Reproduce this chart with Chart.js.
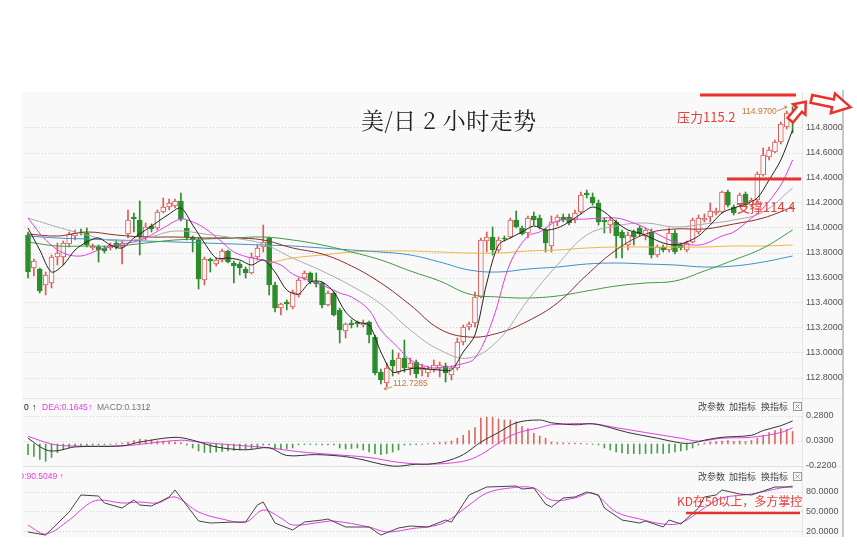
<!DOCTYPE html>
<html><head><meta charset="utf-8">
<script src="https://cdn.jsdelivr.net/npm/chart.js@4.4.1/dist/chart.umd.min.js"></script>
<style>
html,body{margin:0;padding:0;background:#fff;width:857px;height:553px;overflow:hidden;font-family:"Liberation Sans","Noto Sans CJK SC",sans-serif;}
.a{position:absolute;white-space:nowrap;}
canvas{position:absolute;}
.btn{font-family:"Noto Sans CJK SC",sans-serif;font-size:9px;color:#444;line-height:12px;}
.red{font-family:"Noto Sans CJK SC",sans-serif;color:#e5413b;}
</style></head><body>
<div class="a" style="left:22px;top:92px;width:821px;height:445px;background:#f9f9f9;"></div>
<div class="a" style="left:802px;top:92px;width:1px;height:445px;background:#e6e6e6;"></div>
<div class="a" style="left:842px;top:90px;width:2px;height:447px;background:#c9c9c9;"></div>
<div class="a" style="left:22px;top:398px;width:820px;height:1px;background:#e9e9e9;"></div>
<div class="a" style="left:22px;top:466px;width:820px;height:1px;background:#e9e9e9;"></div>
<canvas id="main" width="821" height="306" style="left:24px;top:92px;"></canvas>
<canvas id="macd" width="821" height="75" style="left:24px;top:398px;"></canvas>
<canvas id="kd" width="821" height="71" style="left:24px;top:466px;"></canvas>

<div class="a" style="left:361px;top:105px;font-family:'Noto Serif CJK SC','Noto Sans CJK SC',serif;font-size:23px;line-height:30px;color:#222;letter-spacing:0.5px;">美/日 2 小时走势</div>
<div class="a red" style="left:677px;top:108px;font-size:13px;line-height:18px;">压力115.2</div>
<div class="a red" style="left:737px;top:198px;font-size:13px;line-height:18px;">支撑114.4</div>
<div class="a red" style="left:677px;top:492px;font-size:12px;line-height:18px;">KD在50以上，多方掌控</div>
<div class="a" style="left:742px;top:106px;font-size:8.5px;line-height:11px;color:#c8773a;">114.9700</div>
<div class="a" style="left:393px;top:378px;font-size:8.5px;line-height:11px;color:#c8773a;">112.7285</div>

<div class="a" style="left:24px;top:402px;font-size:8.5px;line-height:11px;color:#222;">0</div>
<div class="a" style="left:32px;top:402px;font-size:9px;line-height:11px;color:#222;">↑</div>
<div class="a" style="left:42px;top:402px;font-size:8.5px;line-height:11px;color:#e040e0;">DEA:0.1645</div>
<div class="a" style="left:88px;top:402px;font-size:9px;line-height:11px;color:#e040e0;">↑</div>
<div class="a" style="left:97px;top:402px;font-size:8.5px;line-height:11px;color:#777;">MACD:0.1312</div>
<div class="a" style="left:145px;top:402px;font-size:9px;line-height:11px;color:#777;">↓</div>
<div class="a" style="left:22px;top:471px;width:80px;height:12px;overflow:hidden;"><div class="a" style="left:-4px;top:0;font-size:8.5px;line-height:11px;color:#e040e0;">D:90.5049 ↑</div></div>

<div class="a btn" style="left:698px;top:401px;">改参数</div>
<div class="a btn" style="left:729px;top:401px;">加指标</div>
<div class="a btn" style="left:761px;top:401px;">换指标</div>
<div class="a btn" style="left:698px;top:471px;">改参数</div>
<div class="a btn" style="left:729px;top:471px;">加指标</div>
<div class="a btn" style="left:761px;top:471px;">换指标</div>

<svg class="a" style="left:0;top:0;" width="857" height="553" viewBox="0 0 857 553">
  <g stroke="#999" fill="none" stroke-width="1">
    <rect x="793.5" y="402.5" width="8" height="8"/><path d="M795.5 404.5 L799.5 408.5 M799.5 404.5 L795.5 408.5"/>
    <rect x="793.5" y="472.5" width="8" height="8"/><path d="M795.5 474.5 L799.5 478.5 M799.5 474.5 L795.5 478.5"/>
  </g>
  <line x1="700" y1="95" x2="796" y2="95" stroke="#e8332d" stroke-width="3"/>
  <line x1="727" y1="179" x2="801" y2="179" stroke="#e8332d" stroke-width="3"/>
  <line x1="686" y1="513" x2="800" y2="513" stroke="#e8332d" stroke-width="2.5"/>
  <path transform="translate(798,111) rotate(-50)" d="M-12,-3.5 L2,-3.5 L2,-8 L12,0 L2,8 L2,3.5 L-12,3.5 Z" fill="#fff" stroke="#e8332d" stroke-width="2.5" stroke-linejoin="miter"/>
  <path transform="translate(831,103) rotate(12)" d="M-20,-4 L2,-4 L2,-10 L20,0 L2,10 L2,4 L-20,4 Z" fill="#fff" stroke="#e8332d" stroke-width="2.5" stroke-linejoin="miter"/>
  <g stroke="#c8773a" stroke-width="0.8" fill="none">
    <path d="M777,111 L787,107 M784,106 L787,107 L785,109"/>
    <path d="M392,387 L384,389 M386,387 L384,389 L387,390"/>
  </g>
</svg>

<script>
// ---------------- DATA ----------------
const priceTicks = [112.8, 113.0, 113.2, 113.4, 113.6, 113.8, 114.0, 114.2, 114.4, 114.6, 114.8];
const macdTicks = [0.28, 0.03, -0.22];
const kdTicks = [80, 50, 20];

const opens = [113.944,113.680,113.672,113.544,113.560,113.768,113.768,113.872,113.936,113.968,113.960,113.840,113.848,113.840,113.840,113.880,113.848,113.952,114.088,114.064,113.928,114.016,114.000,114.128,114.168,114.176,114.216,114.000,113.928,113.904,113.584,113.752,113.712,113.744,113.816,113.720,113.712,113.672,113.640,113.768,113.848,113.920,113.544,113.360,113.408,113.368,113.464,113.600,113.640,113.568,113.560,113.384,113.480,113.344,113.176,113.240,113.248,113.224,113.248,113.128,112.848,112.760,112.944,112.848,112.960,112.880,112.928,112.864,112.840,112.864,112.880,112.896,112.824,112.880,113.088,113.208,113.240,113.448,113.896,113.928,113.824,113.920,113.928,114.064,114.000,113.960,114.096,114.080,113.984,113.856,114.048,114.088,114.088,114.064,114.128,114.280,114.248,114.200,114.064,114.024,114.048,113.968,113.864,113.968,114.000,113.936,113.968,113.784,113.848,113.824,113.960,113.864,113.824,113.888,113.968,114.064,114.088,114.120,114.128,114.288,114.168,114.184,114.272,114.184,114.224,114.424,114.568,114.608,114.688,114.808,114.904];
const highs = [113.968,113.752,113.680,113.648,113.784,113.880,113.896,113.968,113.984,113.992,114.000,113.872,113.864,113.856,113.880,113.904,113.896,114.144,114.120,114.216,114.040,114.032,114.144,114.240,114.232,114.232,114.280,114.064,113.936,113.920,113.768,113.760,113.760,113.832,113.824,113.736,113.728,113.688,113.800,113.864,114.024,113.928,113.568,113.400,113.424,113.504,113.600,113.656,113.648,113.640,113.568,113.496,113.488,113.360,113.240,113.264,113.256,113.264,113.256,113.144,112.872,112.920,113.024,113.000,113.104,112.960,112.944,112.912,112.896,112.944,112.928,112.920,112.896,113.120,113.224,113.248,113.488,113.920,113.968,114.008,113.928,113.936,114.080,114.136,114.016,114.096,114.128,114.104,114.000,114.096,114.104,114.112,114.112,114.144,114.288,114.304,114.280,114.224,114.080,114.088,114.064,113.984,113.968,113.984,114.016,114.000,113.992,113.864,113.864,114.000,113.984,113.880,113.896,114.080,114.104,114.112,114.200,114.160,114.296,114.304,114.184,114.280,114.288,114.240,114.448,114.640,114.648,114.704,114.848,114.936,114.970];
const lows = [113.600,113.616,113.480,113.464,113.520,113.704,113.704,113.848,113.904,113.944,113.848,113.824,113.728,113.800,113.824,113.832,113.712,113.920,113.968,113.784,113.904,113.968,113.984,114.120,114.144,114.160,114.056,113.904,113.808,113.512,113.544,113.648,113.696,113.728,113.720,113.560,113.624,113.600,113.632,113.744,113.808,113.464,113.328,113.304,113.344,113.352,113.448,113.584,113.552,113.528,113.360,113.376,113.296,113.080,113.120,113.200,113.208,113.208,113.080,112.824,112.752,112.7285,112.816,112.832,112.848,112.824,112.800,112.816,112.808,112.848,112.808,112.768,112.784,112.864,113.064,113.184,113.208,113.440,113.808,113.784,113.808,113.896,113.920,114.000,113.944,113.920,114.024,113.992,113.808,113.808,114.016,114.048,114.024,114.040,114.112,114.240,114.184,114.024,113.960,113.960,113.760,113.760,113.824,113.864,113.936,113.904,113.760,113.768,113.808,113.808,113.792,113.824,113.808,113.880,113.952,114.048,114.048,114.104,114.120,114.168,114.104,114.168,114.168,114.168,114.208,114.416,114.544,114.600,114.672,114.792,114.760];
const closes = [113.648,113.736,113.496,113.624,113.768,113.800,113.880,113.952,113.960,113.960,113.864,113.856,113.824,113.816,113.864,113.848,113.880,114.064,114.072,113.928,114.008,113.992,114.128,114.168,114.200,114.216,114.072,113.928,113.904,113.592,113.752,113.736,113.744,113.816,113.728,113.696,113.680,113.640,113.768,113.840,113.888,113.544,113.360,113.392,113.392,113.488,113.584,113.640,113.568,113.552,113.384,113.480,113.304,113.184,113.232,113.224,113.232,113.240,113.144,112.840,112.784,112.880,112.896,112.960,112.880,112.920,112.832,112.888,112.872,112.904,112.904,112.840,112.880,113.088,113.208,113.232,113.448,113.904,113.928,113.824,113.904,113.912,114.064,114.008,113.952,114.080,114.064,114.008,113.880,114.048,114.088,114.064,114.040,114.120,114.264,114.264,114.200,114.048,114.048,114.064,113.936,113.920,113.944,113.928,113.952,113.984,113.784,113.848,113.824,113.960,113.808,113.840,113.880,114.064,114.080,114.080,114.136,114.136,114.288,114.184,114.120,114.264,114.184,114.224,114.432,114.584,114.624,114.688,114.832,114.920,114.848];

// moving-average lines, read at sampled candle positions
const maIdx = [0,5,10,15,20,25,30,35,40,45,50,55,60,65,70,75,80,85,90,95,100,105,110,115,120,125,130];
const maGray  = [114.080,114.008,113.944,113.896,113.920,113.976,113.952,113.920,113.872,113.760,113.656,113.536,113.392,113.184,113.024,112.960,113.104,113.424,113.704,113.944,114.016,114.040,114.008,114.032,114.064,114.128,114.320];
const maBrown = [113.952,113.936,113.968,113.944,113.928,113.928,113.920,113.920,113.904,113.840,113.792,113.696,113.560,113.384,113.192,113.128,113.160,113.256,113.400,113.624,113.824,113.952,113.992,113.992,114.032,114.080,114.168];
const maGreen = [113.888,113.856,113.856,113.856,113.880,113.904,113.912,113.920,113.928,113.904,113.864,113.808,113.744,113.656,113.576,113.472,113.448,113.440,113.456,113.496,113.536,113.560,113.576,113.656,113.744,113.840,113.984];
const maBlue  = [113.936,113.920,113.912,113.904,113.896,113.888,113.880,113.872,113.864,113.856,113.840,113.824,113.808,113.784,113.728,113.664,113.648,113.672,113.688,113.712,113.720,113.712,113.704,113.688,113.696,113.728,113.776];
const orangeIdx = [41,45,50,55,60,65,70,75,80,85,90,95,100,105,110,115,120,125,130];
const maOrange = [113.720,113.760,113.784,113.808,113.816,113.816,113.808,113.800,113.800,113.816,113.824,113.840,113.848,113.848,113.848,113.848,113.856,113.856,113.864];
const blackIdx = [0,2,4,6,8,10,12,14,16,18,20,22,24,26,28,30,32,34,36,38,40,42,44,46,48,50,52,54,56,58,60,62,64,66,68,70,72,74,76,78,80,82,84,86,88,90,92,94,96,98,100,102,104,106,108,110,112,114,116,118,120,122,124,126,128,130];
const maBlack = [114.000,113.824,113.648,113.704,113.824,113.888,113.920,113.864,113.840,113.920,113.984,114.048,114.112,114.160,114.024,113.880,113.760,113.760,113.744,113.704,113.744,113.648,113.504,113.472,113.568,113.568,113.488,113.328,113.248,113.224,113.008,112.848,112.864,112.880,112.872,112.864,112.864,113.008,113.144,113.560,113.864,113.920,113.968,114.016,113.984,114.000,114.048,114.112,114.168,114.128,114.048,113.984,113.960,113.920,113.880,113.864,113.888,113.936,114.024,114.120,114.160,114.192,114.240,114.384,114.544,114.784];
const magentaIdx = [0,3,6,9,12,15,18,20,23,26,28,30,33,35,38,40,43,45,48,50,53,55,58,60,63,65,68,70,73,76,79,82,85,87,90,95,100,103,105,108,110,113,115,118,120,123,125,128,130];
const maMagenta = [114.080,113.904,113.800,113.776,113.824,113.864,113.888,113.920,114.000,114.072,114.048,114.000,113.888,113.808,113.760,113.744,113.704,113.632,113.576,113.544,113.480,113.448,113.344,113.184,113.040,112.944,112.888,112.880,112.904,112.960,113.264,113.720,113.936,113.968,114.056,114.072,114.080,114.040,114.000,113.928,113.888,113.864,113.872,113.936,113.968,114.080,114.160,114.344,114.544];

// MACD panel
const macdHist = [-0.106,-0.125,-0.154,-0.173,-0.135,-0.087,-0.058,-0.038,-0.019,-0.015,-0.012,-0.010,-0.008,-0.006,-0.004,0.004,0.010,0.019,0.035,0.048,0.045,0.040,0.030,0.029,0.025,0.020,0.015,-0.010,-0.040,-0.070,-0.085,-0.087,-0.080,-0.075,-0.070,-0.065,-0.060,-0.055,-0.050,-0.040,-0.010,-0.008,-0.048,-0.050,-0.048,-0.040,-0.008,-0.006,-0.005,-0.006,-0.008,-0.010,-0.010,-0.040,-0.050,-0.045,-0.040,-0.060,-0.080,-0.096,-0.106,-0.096,-0.080,-0.060,-0.010,-0.008,-0.006,-0.005,0.005,0.010,0.015,0.019,0.030,0.058,0.087,0.135,0.163,0.260,0.269,0.269,0.250,0.240,0.240,0.221,0.173,0.154,0.106,0.080,0.058,0.020,0.015,0.012,0.010,0.008,0.006,0.004,-0.004,-0.010,-0.040,-0.060,-0.080,-0.090,-0.096,-0.096,-0.100,-0.096,-0.096,-0.090,-0.096,-0.090,-0.080,-0.070,-0.060,-0.040,-0.010,0.010,0.020,0.025,0.030,0.035,0.025,0.030,0.025,0.035,0.058,0.087,0.115,0.135,0.154,0.145,0.125];
const difIdx = [0,3,5,8,16,19,25,28,32,37,41,44,49,55,62,66,68,71,74,77,80,83,87,89,93,96,99,102,107,111,113,115,118,123,125,128,130];
const difVals = [0.058,-0.058,-0.067,-0.029,-0.019,0.019,0.067,0.038,-0.029,-0.058,-0.038,-0.115,-0.106,-0.135,-0.221,-0.202,-0.202,-0.173,-0.106,0.019,0.115,0.212,0.240,0.212,0.192,0.202,0.163,0.115,0.058,0.010,0.010,0.038,0.067,0.087,0.135,0.183,0.231];
const deaIdx = [0,4,7,16,21,26,29,35,41,46,52,58,63,68,74,77,80,83,87,89,96,100,105,111,114,118,123,128,130];
const deaVals = [0.077,0.000,-0.019,-0.019,0.010,0.038,0.019,-0.010,-0.038,-0.077,-0.106,-0.135,-0.183,-0.202,-0.173,-0.106,0.010,0.106,0.163,0.192,0.202,0.163,0.115,0.058,0.029,0.058,0.067,0.115,0.163];

// KD panel
const kIdx = [0,3,7,9,12,13,16,18,19,21,24,25,29,31,35,37,39,40,42,45,47,50,51,54,58,60,63,65,68,71,72,75,78,83,84,86,88,89,91,93,95,97,98,101,104,105,108,109,111,114,115,117,118,121,123,125,127,130];
const kVals = [18.5,13.8,49.2,75.4,73.8,63.1,55.4,67.7,60,58.5,72.3,83.1,35.4,32.3,33.8,33.8,60,64.6,32.3,21.5,33.8,36.9,38.5,26.2,26.2,13.8,24.6,27.7,26.2,36.9,33.8,75.4,87.7,89.2,84.6,86.2,61.5,56.9,70.8,72.3,80,75.4,55.4,36.9,32.3,35.4,26.2,36.9,30.8,55.4,72.3,75.4,83.1,76.9,75.4,81.5,87.7,87.7];
const dIdx = [0,3,7,10,12,16,19,22,25,29,33,37,40,43,45,50,52,58,61,66,68,71,75,78,82,86,89,93,96,100,104,108,111,115,118,123,128,130];
const dVals = [29.2,15.4,36.9,60,67.7,63.1,64.6,63.1,72.3,49.2,38.5,33.8,52.3,40,29.2,33.8,35.4,26.2,18.5,24.6,26.2,33.8,60,78.5,86.2,86.2,67.7,70.8,78.5,49.2,38.5,30.8,32.3,55.4,70.8,76.9,86.2,89.2];

// ---------------- CHARTS ----------------
const RED = '#dc5b57', GREEN = '#2b8c2b', BG = '#f9f9f9';
const X_MIN = -0.68, X_MAX = 131.6;
const pts = (idx, vals) => idx.map((x, k) => ({x, y: vals[k]}));
const line = (data, color, tension = 0.35, width = 1) => ({type: 'line', data, borderColor: color, borderWidth: width, pointRadius: 0, tension, fill: false, order: 0});
const up = opens.map((o, i) => closes[i] >= o);

function yAxis(min, max, ticks, fmt) {
  return {
    position: 'right', min, max,
    afterBuildTicks: s => { s.ticks = ticks.map(v => ({value: v})); },
    afterFit: s => { s.width = 43; s.paddingTop = 0; s.paddingBottom = 0; },
    ticks: {callback: fmt, font: {size: 9, family: 'Liberation Sans'}, color: '#555', padding: 4},
    grid: {color: '#d2d2d2', drawTicks: false},
    border: {display: false, dash: [1, 2]}
  };
}
const xAxis = () => ({type: 'linear', min: X_MIN, max: X_MAX, offset: false, display: false});
const common = {
  responsive: false, animation: false, devicePixelRatio: 1,
  plugins: {legend: {display: false}, tooltip: {enabled: false}}
};

new Chart(document.getElementById('main'), {
  type: 'bar',
  data: {datasets: [
    line(pts(blackIdx, maBlack), '#222', 0.3),
    line(pts(magentaIdx, maMagenta), '#e040e0', 0.35),
    line(pts(maIdx, maGray), '#aaaaaa', 0.4),
    line(pts(maIdx, maBrown), '#8b2c2c', 0.4),
    line(pts(maIdx, maGreen), '#3f9a3f', 0.4),
    line(pts(maIdx, maBlue), '#3d90c8', 0.4),
    line(pts(orangeIdx, maOrange), '#f0b440', 0.4),
    {type: 'bar', order: 1, grouped: false, barThickness: 5, minBarLength: 1, borderSkipped: false, borderWidth: 1,
     data: opens.map((o, i) => ({x: i, y: [o, closes[i]]})),
     backgroundColor: up.map(u => u ? BG : GREEN), borderColor: up.map(u => u ? RED : GREEN)},
    {type: 'bar', order: 2, grouped: false, barThickness: 1, borderWidth: 0,
     data: lows.map((l, i) => ({x: i, y: [l, highs[i]]})),
     backgroundColor: up.map(u => u ? RED : GREEN)}
  ]},
  options: Object.assign({}, common, {
    layout: {padding: 0, autoPadding: false},
    scales: {x: xAxis(), y: yAxis(112.64, 115.088, priceTicks, v => Number(v).toFixed(4))}
  })
});

new Chart(document.getElementById('macd'), {
  type: 'bar',
  data: {datasets: [
    line(pts(difIdx, difVals), '#333', 0.35),
    line(pts(deaIdx, deaVals), '#e040e0', 0.35),
    {type: 'bar', order: 1, grouped: false, barThickness: 1, borderWidth: 0,
     data: macdHist.map((v, i) => ({x: i, y: v})),
     backgroundColor: macdHist.map(v => v >= 0 ? '#d86a66' : '#4c9e4c')}
  ]},
  options: Object.assign({}, common, {
    layout: {padding: {bottom: 6}, autoPadding: false},
    scales: {x: xAxis(), y: yAxis(-0.23, 0.46, macdTicks, v => Number(v).toFixed(4))}
  })
});

new Chart(document.getElementById('kd'), {
  type: 'line',
  data: {datasets: [
    line(pts(kIdx, kVals), '#444', 0),
    line(pts(dIdx, dVals), '#e040e0', 0.35)
  ]},
  options: Object.assign({}, common, {
    layout: {padding: 0, autoPadding: false},
    scales: {x: xAxis(), y: yAxis(10.8, 120, kdTicks, v => Number(v).toFixed(4))}
  })
});
</script>
</body></html>
